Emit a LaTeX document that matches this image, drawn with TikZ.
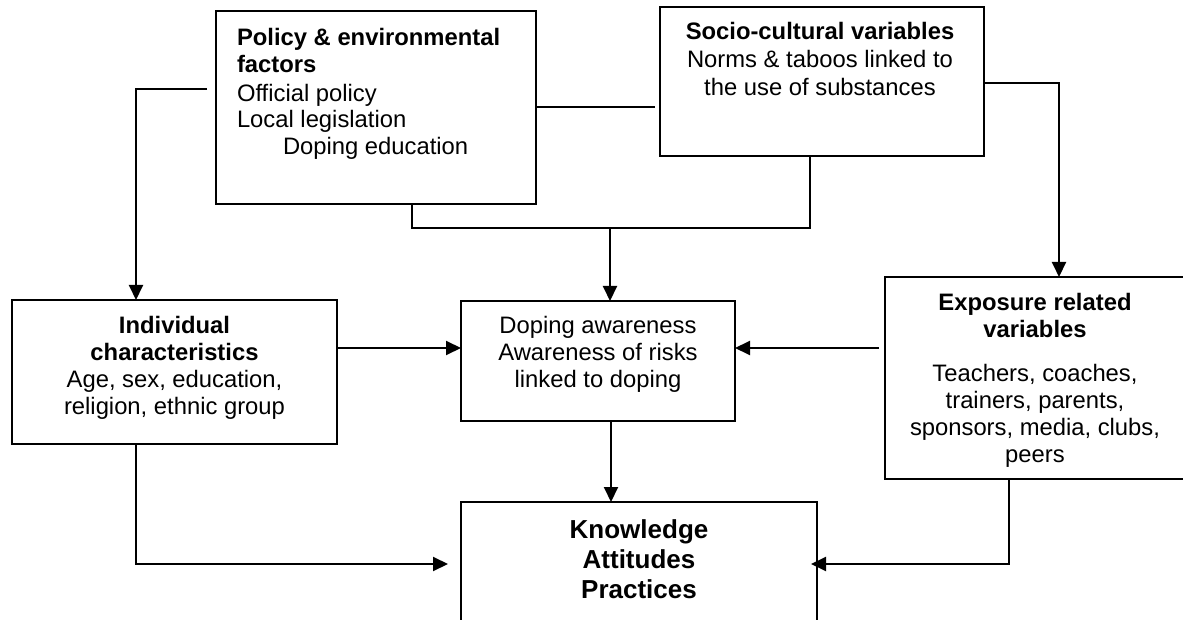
\documentclass[tikz,border=0pt]{standalone}
\usepackage{fontspec}
\setmainfont{Liberation Sans}
\usetikzlibrary{arrows.meta,calc}
\begin{document}
\begin{tikzpicture}[x=1pt,y=-1pt,
  frame/.style={draw, line width=2pt, inner sep=0pt, outer sep=0pt},
  txt/.style={inner sep=0pt, outer sep=0pt},
  ln/.style={line width=2pt},
  arr/.style={line width=2pt, -{Triangle[length=15pt,width=14pt]}}]

% canvas
\fill[white] (0,0) rectangle (1183,620);
\useasboundingbox (0,0) rectangle (1183,620);
\clip (0,0) rectangle (1183,620);

% boxes
\node[frame, minimum width=320pt, minimum height=193pt] (pol) at (376,107.5) {};
\node[frame, minimum width=324pt, minimum height=149pt] (soc) at (822,81.5) {};
\node[frame, minimum width=325pt, minimum height=144pt] (ind) at (174.5,372) {};
\node[frame, minimum width=274pt, minimum height=120pt] (awa) at (598,361) {};
\node[frame, minimum width=320pt, minimum height=202pt] (exp) at (1045,378) {};
\node[frame, minimum width=356pt, minimum height=156pt] (kap) at (639,580) {};

% box texts
\node[txt, anchor=base west, font=\fontsize{23.8}{26.5}\selectfont] (polT) at (237,46)
  {\begin{tabular}[t]{@{}l@{}}\bfseries Policy \& environmental\\ \bfseries factors\\[2.5pt]
   Official policy\\ Local legislation\\ \hspace*{46pt}Doping education\end{tabular}};
\node[txt, anchor=base, font=\fontsize{23.8}{28}\selectfont] (socT) at (820,40)
  {\begin{tabular}[t]{@{}c@{}}\bfseries Socio-cultural variables\\
   Norms \& taboos linked to\\ the use of substances\end{tabular}};
\node[txt, anchor=base, font=\fontsize{23.8}{27}\selectfont] (indT) at (174.5,334)
  {\begin{tabular}[t]{@{}c@{}}\bfseries Individual\\ \bfseries characteristics\\
   Age, sex, education,\\ religion, ethnic group\end{tabular}};
\node[txt, anchor=base, font=\fontsize{23.8}{27.5}\selectfont] (awaT) at (598,333)
  {\begin{tabular}[t]{@{}c@{}}Doping awareness\\ Awareness of risks\\ linked to doping\end{tabular}};
\node[txt, anchor=base, font=\fontsize{23.8}{27}\selectfont] (expT) at (1035,310)
  {\begin{tabular}[t]{@{}c@{}}\bfseries Exposure related\\ \bfseries variables\\[17pt]
   Teachers, coaches,\\ trainers, parents,\\ sponsors, media, clubs,\\ peers\end{tabular}};
\node[txt, anchor=base, font=\fontsize{26}{30}\selectfont\bfseries] (kapT) at (639,538)
  {\begin{tabular}[t]{@{}c@{}}Knowledge\\ Attitudes\\ Practices\end{tabular}};

% connectors
\draw[arr] ($(pol.north west)+(-9,78)$) -| ($(ind.north)+(-38.5,0)$);
\draw[arr] ($(soc.east)+(0,1.5)$) -| ($(exp.north)+(14,0)$);
\draw[ln] (pol.east) -- ($(soc.west |- pol.east)+(-5,0)$);
\coordinate (j) at ($(awa.north)+(12,-73)$);
\draw[ln] ($(pol.south)+(36,0)$) |- (j) -| ($(soc.south)+(-12,0)$);
\draw[arr] (j) -- ($(awa.north)+(12,0)$);
\draw[arr] ($(ind.east)+(0,-24)$) -- ($(awa.west)+(0,-13)$);
\draw[arr] ($(exp.west)+(-6,-30)$) -- ($(awa.east)+(0,-13)$);
\draw[arr] ($(awa.south)+(13,0)$) -- ($(kap.north)+(-28,0)$);
\draw[arr] ($(ind.south)+(-38.5,0)$) |- ($(kap.west)+(-13,-16)$);
\draw[arr] ($(exp.south)+(-36,0)$) |- ($(kap.east)+(-6,-16)$);
\end{tikzpicture}
\end{document}
